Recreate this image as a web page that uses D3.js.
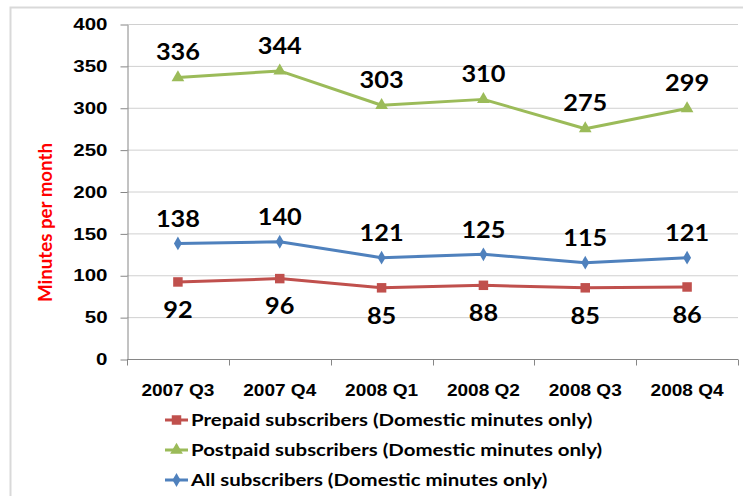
<!DOCTYPE html>
<html lang="en">
<head>
<meta charset="UTF-8">
<title>Minutes per month</title>
<script src="https://d3js.org/d3.v7.min.js"></script>
<style>
    body { margin: 0; background: #fff; }
    svg { display: block; font-family: Lato, 'Open Sans', sans-serif; font-weight: bold; }
    .axis path, .axis line { stroke: #868686; }
    .axis text { fill: #000; font-weight: bold; }
</style>
</head>
<body>
<svg width="743" height="496"></svg>
<script>
    var quarters = ["2007 Q3", "2007 Q4", "2008 Q1", "2008 Q2", "2008 Q3", "2008 Q4"];
    var prepaid = [92, 96, 85, 88, 85, 86];
    var postpaid = [336, 344, 303, 310, 275, 299];
    var allSubs = [138, 140, 121, 125, 115, 121];
    var yTicks = [0, 50, 100, 150, 200, 250, 300, 350, 400];
    var seriesNames = ["Prepaid subscribers (Domestic minutes only)",
                       "Postpaid subscribers (Domestic minutes only)",
                       "All subscribers (Domestic minutes only)"];

    var series = [
        {name: seriesNames[0], values: prepaid, color: "#c0504d", symbol: d3.symbolSquare, size: 90, labelDy: 28},
        {name: seriesNames[1], values: postpaid, color: "#9bbb59", symbol: d3.symbolTriangle, size: 70, labelDy: -25},
        {name: seriesNames[2], values: allSubs, color: "#4f81bd", symbol: d3.symbolDiamond, size: 55, labelDy: -24}
    ];

    // the source text is a bit wider than Lato, stretch it sideways
    function stretch(sel, k) {
        sel.each(function() {
            var w = this.getComputedTextLength();
            d3.select(this).attr("textLength", w * k).attr("lengthAdjust", "spacingAndGlyphs");
        });
    }

    var svg = d3.select("svg");

    // outer chart border
    svg.append("rect")
        .attr("x", 10.5).attr("y", 7.5)
        .attr("width", 760).attr("height", 520)
        .attr("fill", "none").attr("stroke", "#d9d9d9").attr("stroke-width", 2);

    var x = d3.scaleBand().domain(quarters).range([127, 738]);
    var y = d3.scaleLinear().domain([0, 400]).range([359, 24]);
    var cx = q => x(q) + x.bandwidth() / 2;

    // gridlines
    svg.append("g").selectAll("line")
        .data(yTicks.filter(d => d > 0))
        .enter().append("line")
        .attr("x1", 127).attr("x2", 738)
        .attr("y1", d => y(d) + 0.5).attr("y2", d => y(d) + 0.5)
        .attr("stroke", "#d0d0d0");

    // y axis
    var yAxis = svg.append("g")
        .attr("class", "axis")
        .attr("transform", "translate(127.5,0.5)")
        .call(d3.axisLeft(y).tickValues(yTicks).tickSize(7).tickPadding(13).tickSizeOuter(0));
    yAxis.selectAll("text").style("font-size", "16px").call(stretch, 1.28);

    // x axis labels
    var xAxis = svg.append("g")
        .attr("class", "axis")
        .attr("transform", "translate(0,359.5)")
        .call(d3.axisBottom(x).tickSize(0).tickPadding(24).tickSizeOuter(0));
    xAxis.selectAll("text").style("font-size", "17px").call(stretch, 1.12);
    xAxis.select(".domain").attr("d", "M127,0H738");

    // x boundary ticks
    var edges = quarters.map(q => x(q)).concat([x.range()[1]]);
    xAxis.selectAll(".edge")
        .data(edges).enter().append("line")
        .attr("class", "edge")
        .attr("x1", d => Math.round(d) + 0.5).attr("x2", d => Math.round(d) + 0.5)
        .attr("y1", 0).attr("y2", 6)
        .attr("stroke", "#868686");

    // y title
    svg.append("text")
        .attr("transform", "translate(46,222.5) rotate(-90)")
        .attr("text-anchor", "middle")
        .attr("dy", "0.35em")
        .attr("fill", "#ff0000")
        .attr("textLength", 159)
        .attr("lengthAdjust", "spacingAndGlyphs")
        .style("font-size", "18px")
        .text("Minutes per month");

    var line = d3.line().x((d, i) => cx(quarters[i])).y(d => y(d));

    series.forEach(s => {
        var g = svg.append("g");
        g.append("path")
            .attr("d", line(s.values))
            .attr("fill", "none")
            .attr("stroke", s.color)
            .attr("stroke-width", 3)
            .attr("stroke-linejoin", "round");
        g.selectAll("path.marker")
            .data(s.values).enter().append("path")
            .attr("class", "marker")
            .attr("d", d3.symbol().type(s.symbol).size(s.size))
            .attr("transform", (d, i) => "translate(" + cx(quarters[i]) + "," + y(d) + ")")
            .attr("fill", s.color);
        g.selectAll("text")
            .data(s.values).enter().append("text")
            .attr("x", (d, i) => cx(quarters[i]))
            .attr("y", d => y(d) + s.labelDy)
            .attr("dy", "0.35em")
            .attr("text-anchor", "middle")
            .style("font-size", "22px")
            .text(d => d)
            .call(stretch, 1.15);
    });

    // legend
    var legend = svg.append("g").selectAll("g")
        .data(series).enter().append("g")
        .attr("transform", (d, i) => "translate(165," + (420 + i * 30) + ")");
    legend.append("line")
        .attr("x1", 0).attr("x2", 23)
        .attr("stroke", d => d.color).attr("stroke-width", 3);
    legend.append("path")
        .attr("d", d => d3.symbol().type(d.symbol).size(d.size)())
        .attr("transform", "translate(11.5,0)")
        .attr("fill", d => d.color);
    legend.append("text")
        .attr("x", 26)
        .attr("dy", "0.35em")
        .style("font-size", "17px")
        .text(d => d.name)
        .call(stretch, 1.2);
</script>
</body>
</html>
